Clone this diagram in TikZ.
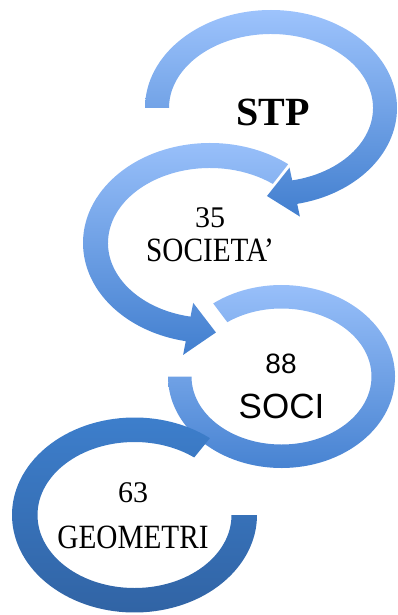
\documentclass[tikz,border=0pt]{standalone}
\usepackage{fontspec}
\setmainfont{Liberation Serif}
\setsansfont{Liberation Sans}
\usetikzlibrary{positioning,calc}
\definecolor{bandtop}{RGB}{157,195,252}
\definecolor{bandbot}{RGB}{66,127,207}
\definecolor{deeptop}{RGB}{62,128,206}
\definecolor{deepbot}{RGB}{48,98,162}
\tikzset{
  lightband/.style={top color=bandtop, bottom color=bandbot, draw=none},
  deepband/.style={top color=deeptop, bottom color=deepbot, draw=none},
  numtext/.style={anchor=base, inner sep=0pt, font=\fontsize{30}{36}\selectfont},
  wordtext/.style={anchor=base, inner sep=0pt, xscale=0.86, font=\fontsize{34}{40}\selectfont},
  sanstext/.style={anchor=base, inner sep=0pt, font=\sffamily\fontsize{35}{42}\selectfont}
}

\begin{document}
\begin{tikzpicture}[x=1pt, y=-1pt]
    \useasboundingbox (0,0) rectangle (397,615);
    \coordinate (c1) at (271,108);
    \coordinate (c2) at (210,243);
    \coordinate (c3) at (281.5,376.5);
    \coordinate (c4) at (134.5,515);

    % arrow tips
    \coordinate (m1) at ($(c1)+(438:114 and 86)$);
    \coordinate (k1) at ($(c1)+(441:114 and 86)$);
    \coordinate (t1) at ($(m1)!28pt!(k1)$);
    \coordinate (m2) at ($(c2)+(101:114.5 and 87.5)$);
    \coordinate (k2) at ($(c2)+(98:114.5 and 87.5)$);
    \coordinate (t2) at ($(m2)!28pt!(k2)$);

    \shade[lightband] ($(c1)+(180:126 and 98)$) arc[start angle=180, end angle=438, x radius=126, y radius=98]
        -- ($(c1)+(438:139 and 111)$) -- (t1) -- ($(c1)+(438:89 and 61)$)
        -- ($(c1)+(438:102 and 74)$) arc[start angle=438, end angle=180, x radius=102, y radius=74] -- cycle;

    \shade[lightband] ($(c2)+(308:127 and 100)$) arc[start angle=308, end angle=101, x radius=127, y radius=100]
        -- ($(c2)+(101:141 and 114)$) -- (t2) -- ($(c2)+(101:88 and 61)$)
        -- ($(c2)+(101:102 and 75)$) arc[start angle=101, end angle=308, x radius=102, y radius=75] -- cycle;

    \shade[lightband] ($(c3)+(233:113.5 and 91.5)$) arc[start angle=233, end angle=540, x radius=113.5, y radius=91.5]
        -- ($(c3)+(540:90 and 68)$) arc[start angle=540, end angle=233, x radius=90, y radius=68] -- cycle;

    \shade[deepband] ($(c4)+(308:122.5 and 97.5)$) arc[start angle=308, end angle=0, x radius=122.5, y radius=97.5]
        -- ($(c4)+(0:97 and 73)$) arc[start angle=0, end angle=308, x radius=97, y radius=73] -- cycle;

    \node[anchor=base, inner sep=0pt, font=\bfseries\fontsize{40}{48}\selectfont] (stp) at (273,125) {STP};
    \node[numtext] (n35) at (210,227) {35};
    \node[wordtext] (w35) at (210,261) {SOCIETA’};
    \node[sanstext, font=\sffamily\fontsize{28}{34}\selectfont] (n88) at (281,373) {88};
    \node[sanstext] (w88) at (281.5,418) {SOCI};
    \node[numtext] (n63) at (133,502) {63};
    \node[wordtext] (w63) at (133,548) {GEOMETRI};
\end{tikzpicture}
\end{document}
